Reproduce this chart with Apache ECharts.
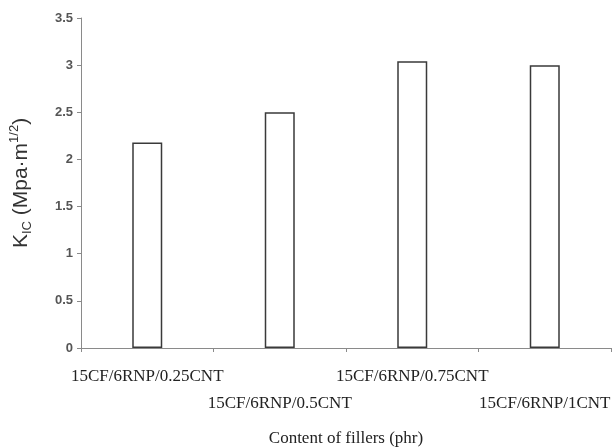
<!DOCTYPE html>
<html>
<head>
<meta charset="utf-8">
<script src="https://cdn.jsdelivr.net/npm/echarts@6/dist/echarts.min.js"></script>
<style>
  html, body { margin: 0; padding: 0; background: #fff; }
  #chart { width: 613px; height: 447px; }
</style>
</head>
<body>
<div id="chart"></div>
<script>
// Fracture toughness for each filler formulation
const categories = [
  '15CF/6RNP/0.25CNT',
  '15CF/6RNP/0.5CNT',
  '15CF/6RNP/0.75CNT',
  '15CF/6RNP/1CNT'
];
const kicValues = [2.18, 2.5, 3.04, 3.0];
const yTicks = { min: 0, max: 3.5, step: 0.5 };

const chart = echarts.init(document.getElementById('chart'));
chart.setOption({
  animation: false,
  grid: { left: 81, right: 2, top: 18, bottom: 99, containLabel: false, outerBoundsMode: 'none' },
  xAxis: {
    type: 'category',
    data: categories,
    name: 'Content of fillers (phr)',
    nameLocation: 'middle',
    nameGap: 82,
    nameTextStyle: { fontFamily: 'Liberation Serif', fontSize: 17, color: '#222' },
    axisLine: { lineStyle: { color: '#8a8a8a', width: 1 } },
    axisTick: { show: true, length: 4, lineStyle: { color: '#8a8a8a' } },
    axisLabel: {
      interval: 0,
      margin: 15,
      fontFamily: 'Liberation Serif',
      fontSize: 17,
      color: '#222',
      lineHeight: 27,
      formatter: (v, i) => (i % 2 === 1 ? '\n' + v : v)
    }
  },
  yAxis: {
    type: 'value',
    min: yTicks.min,
    max: yTicks.max,
    interval: yTicks.step,
    name: '{m|K}{s|IC}{m| (Mpa·m}{p|1/2}{m|)}',
    nameLocation: 'middle',
    nameRotate: 90,
    nameGap: 47,
    nameTextStyle: {
      rich: {
        m: { fontFamily: 'Liberation Sans', fontSize: 21, color: '#333', lineHeight: 26 },
        s: { fontFamily: 'Liberation Sans', fontSize: 13, color: '#333', lineHeight: 26, verticalAlign: 'bottom', padding: [8, 0, 0, 0] },
        p: { fontFamily: 'Liberation Sans', fontSize: 13, color: '#333', lineHeight: 26, verticalAlign: 'top', padding: [0, 0, 8, 0] }
      }
    },
    axisLine: { show: true, lineStyle: { color: '#8a8a8a', width: 1 } },
    axisTick: { show: true, length: 4, lineStyle: { color: '#8a8a8a' } },
    splitLine: { show: false },
    axisLabel: {
      margin: 8,
      fontFamily: 'Liberation Sans',
      fontSize: 13,
      fontWeight: 'bold',
      color: '#555',
      formatter: v => String(v)
    }
  },
  series: [{
    type: 'bar',
    data: kicValues,
    barWidth: 30,
    itemStyle: { color: '#ffffff', borderColor: '#3a3a3a', borderWidth: 1.5 }
  }]
});
</script>
</body>
</html>
